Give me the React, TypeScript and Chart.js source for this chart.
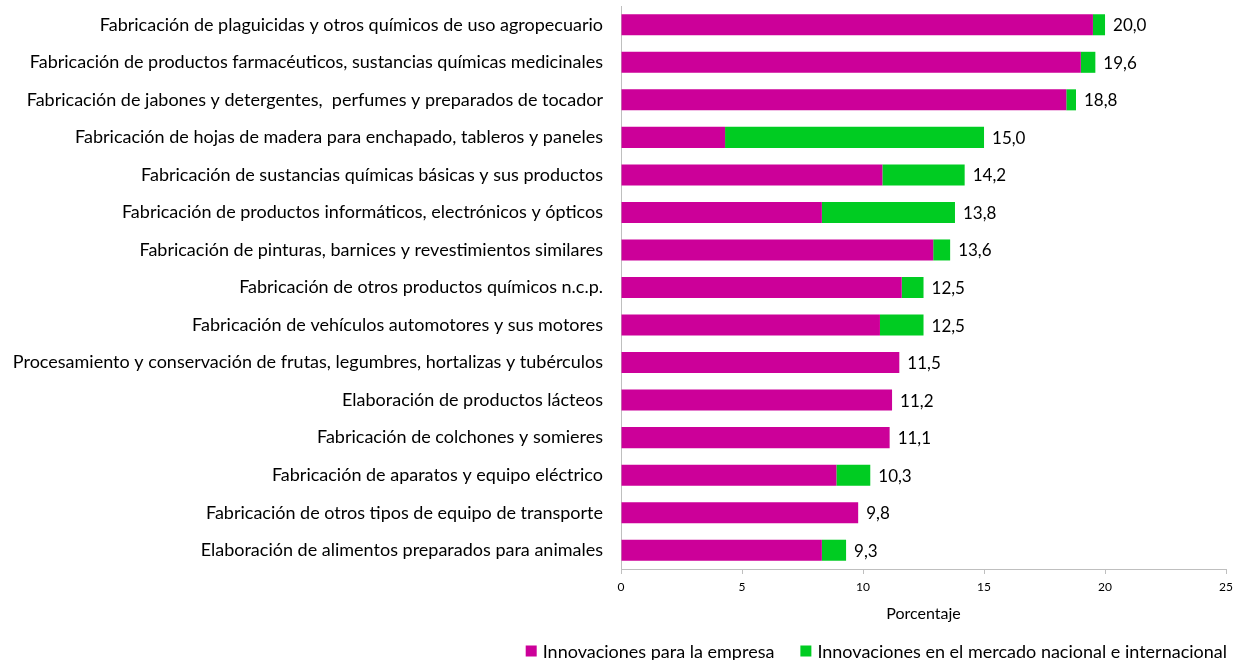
import React, { useEffect, useRef } from "react";
import { Chart, registerables } from "chart.js";

Chart.register(...registerables);

const categories = [
  "Fabricación de plaguicidas y otros químicos de uso agropecuario",
  "Fabricación de productos farmacéuticos, sustancias químicas medicinales",
  "Fabricación de jabones y detergentes,  perfumes y preparados de tocador",
  "Fabricación de hojas de madera para enchapado, tableros y paneles",
  "Fabricación de sustancias químicas básicas y sus productos",
  "Fabricación de productos informáticos, electrónicos y ópticos",
  "Fabricación de pinturas, barnices y revestimientos similares",
  "Fabricación de otros productos químicos n.c.p.",
  "Fabricación de vehículos automotores y sus motores",
  "Procesamiento y conservación de frutas, legumbres, hortalizas y tubérculos",
  "Elaboración de productos lácteos",
  "Fabricación de colchones y somieres",
  "Fabricación de aparatos y equipo eléctrico",
  "Fabricación de otros tipos de equipo de transporte",
  "Elaboración de alimentos preparados para animales",
];

const empresa = [19.5, 19.0, 18.4, 4.3, 10.8, 8.3, 12.9, 11.6, 10.7, 11.5, 11.2, 11.1, 8.9, 9.8, 8.3];
const mercado = [0.5, 0.6, 0.4, 10.7, 3.4, 5.5, 0.7, 0.9, 1.8, 0, 0, 0, 1.4, 0, 1.0];
const totals = [20.0, 19.6, 18.8, 15.0, 14.2, 13.8, 13.6, 12.5, 12.5, 11.5, 11.2, 11.1, 10.3, 9.8, 9.3];

const seriesNames = ["Innovaciones para la empresa", "Innovaciones en el mercado nacional e internacional"];
const seriesColors = ["#CC0099", "#00CC22"];
const xTicks = [0, 5, 10, 15, 20, 25];

const FONT = "Lato, 'Open Sans', sans-serif";

const totalLabels = {
  id: "totalLabels",
  afterDatasetsDraw(chart: any) {
    const ctx = chart.ctx;
    const meta = chart.getDatasetMeta(1);
    const xs = chart.scales.x;
    ctx.save();
    ctx.font = `17px ${FONT}`;
    ctx.fillStyle = "#000";
    ctx.textAlign = "left";
    ctx.textBaseline = "middle";
    totals.forEach((t, i) => {
      const el = meta.data[i];
      const x = xs.getPixelForValue(t) + 8;
      ctx.fillText(t.toFixed(1).replace(".", ","), x, el.y + 1);
    });
    ctx.restore();
  },
};

const customLegend = {
  id: "customLegend",
  afterDraw(chart: any) {
    const ctx = chart.ctx;
    ctx.save();
    ctx.font = `18px ${FONT}`;
    ctx.textBaseline = "middle";
    ctx.textAlign = "left";
    const box = 11;
    const boxGap = 6;
    const itemGap = 26;
    const widths = seriesNames.map((n) => ctx.measureText(n).width);
    const total = widths.reduce((a, w) => a + box + boxGap + w, 0) + itemGap * (seriesNames.length - 1);
    const right = chart.width - 12;
    let x = right - total;
    const y = chart.height - 9;
    seriesNames.forEach((n, i) => {
      ctx.fillStyle = seriesColors[i];
      ctx.fillRect(x, y - box / 2, box, box);
      x += box + boxGap;
      ctx.fillStyle = "#000";
      ctx.fillText(n, x, y + 1);
      x += widths[i] + itemGap;
    });
    ctx.restore();
  },
};

export default function App() {
  const ref = useRef<HTMLCanvasElement>(null);
  useEffect(() => {
    document.body.style.margin = "0";
    document.body.style.overflow = "hidden";
    const chart = new Chart(ref.current!, {
      type: "bar",
      data: {
        labels: categories,
        datasets: [
          {
            label: seriesNames[0],
            data: empresa,
            backgroundColor: seriesColors[0],
            borderWidth: 0,
            barPercentage: 0.56,
            categoryPercentage: 1,
          },
          {
            label: seriesNames[1],
            data: mercado,
            backgroundColor: seriesColors[1],
            borderWidth: 0,
            barPercentage: 0.56,
            categoryPercentage: 1,
          },
        ],
      },
      options: {
        indexAxis: "y",
        responsive: false,
        animation: false,
        layout: { padding: { left: 0, right: 9, top: 6, bottom: 33 } },
        scales: {
          x: {
            stacked: true,
            min: 0,
            max: 25,
            afterBuildTicks: (s: any) => {
              s.ticks = xTicks.map((v) => ({ value: v }));
            },
            afterFit: (s: any) => {
              s.height = 58;
            },
            grid: {
              display: true,
              drawOnChartArea: false,
              drawTicks: true,
              tickLength: 5,
              color: "#BFBFBF",
            },
            border: { display: true, color: "#BFBFBF" },
            ticks: {
              color: "#000",
              font: { family: FONT, size: 12 },
              padding: 6,
              maxRotation: 0,
            },
            title: {
              display: true,
              text: "Porcentaje",
              color: "#000",
              font: { family: FONT, size: 16 },
              padding: { top: 6, bottom: 4 },
            },
          },
          y: {
            stacked: true,
            afterFit: (s: any) => {
              s.width = 621;
              s.paddingTop = 0;
              s.paddingBottom = 0;
            },
            grid: { display: false, drawTicks: false },
            border: { display: true, color: "#BFBFBF" },
            ticks: {
              color: "#000",
              font: { family: FONT, size: 18 },
              padding: 18,
              autoSkip: false,
            },
          },
        },
        plugins: {
          legend: { display: false },
          tooltip: { enabled: false },
        },
      },
      plugins: [totalLabels, customLegend],
    });
    return () => chart.destroy();
  }, []);
  return (
    <div style={{ width: 1239, height: 660 }}>
      <canvas ref={ref} width={1239} height={660} />
    </div>
  );
}
